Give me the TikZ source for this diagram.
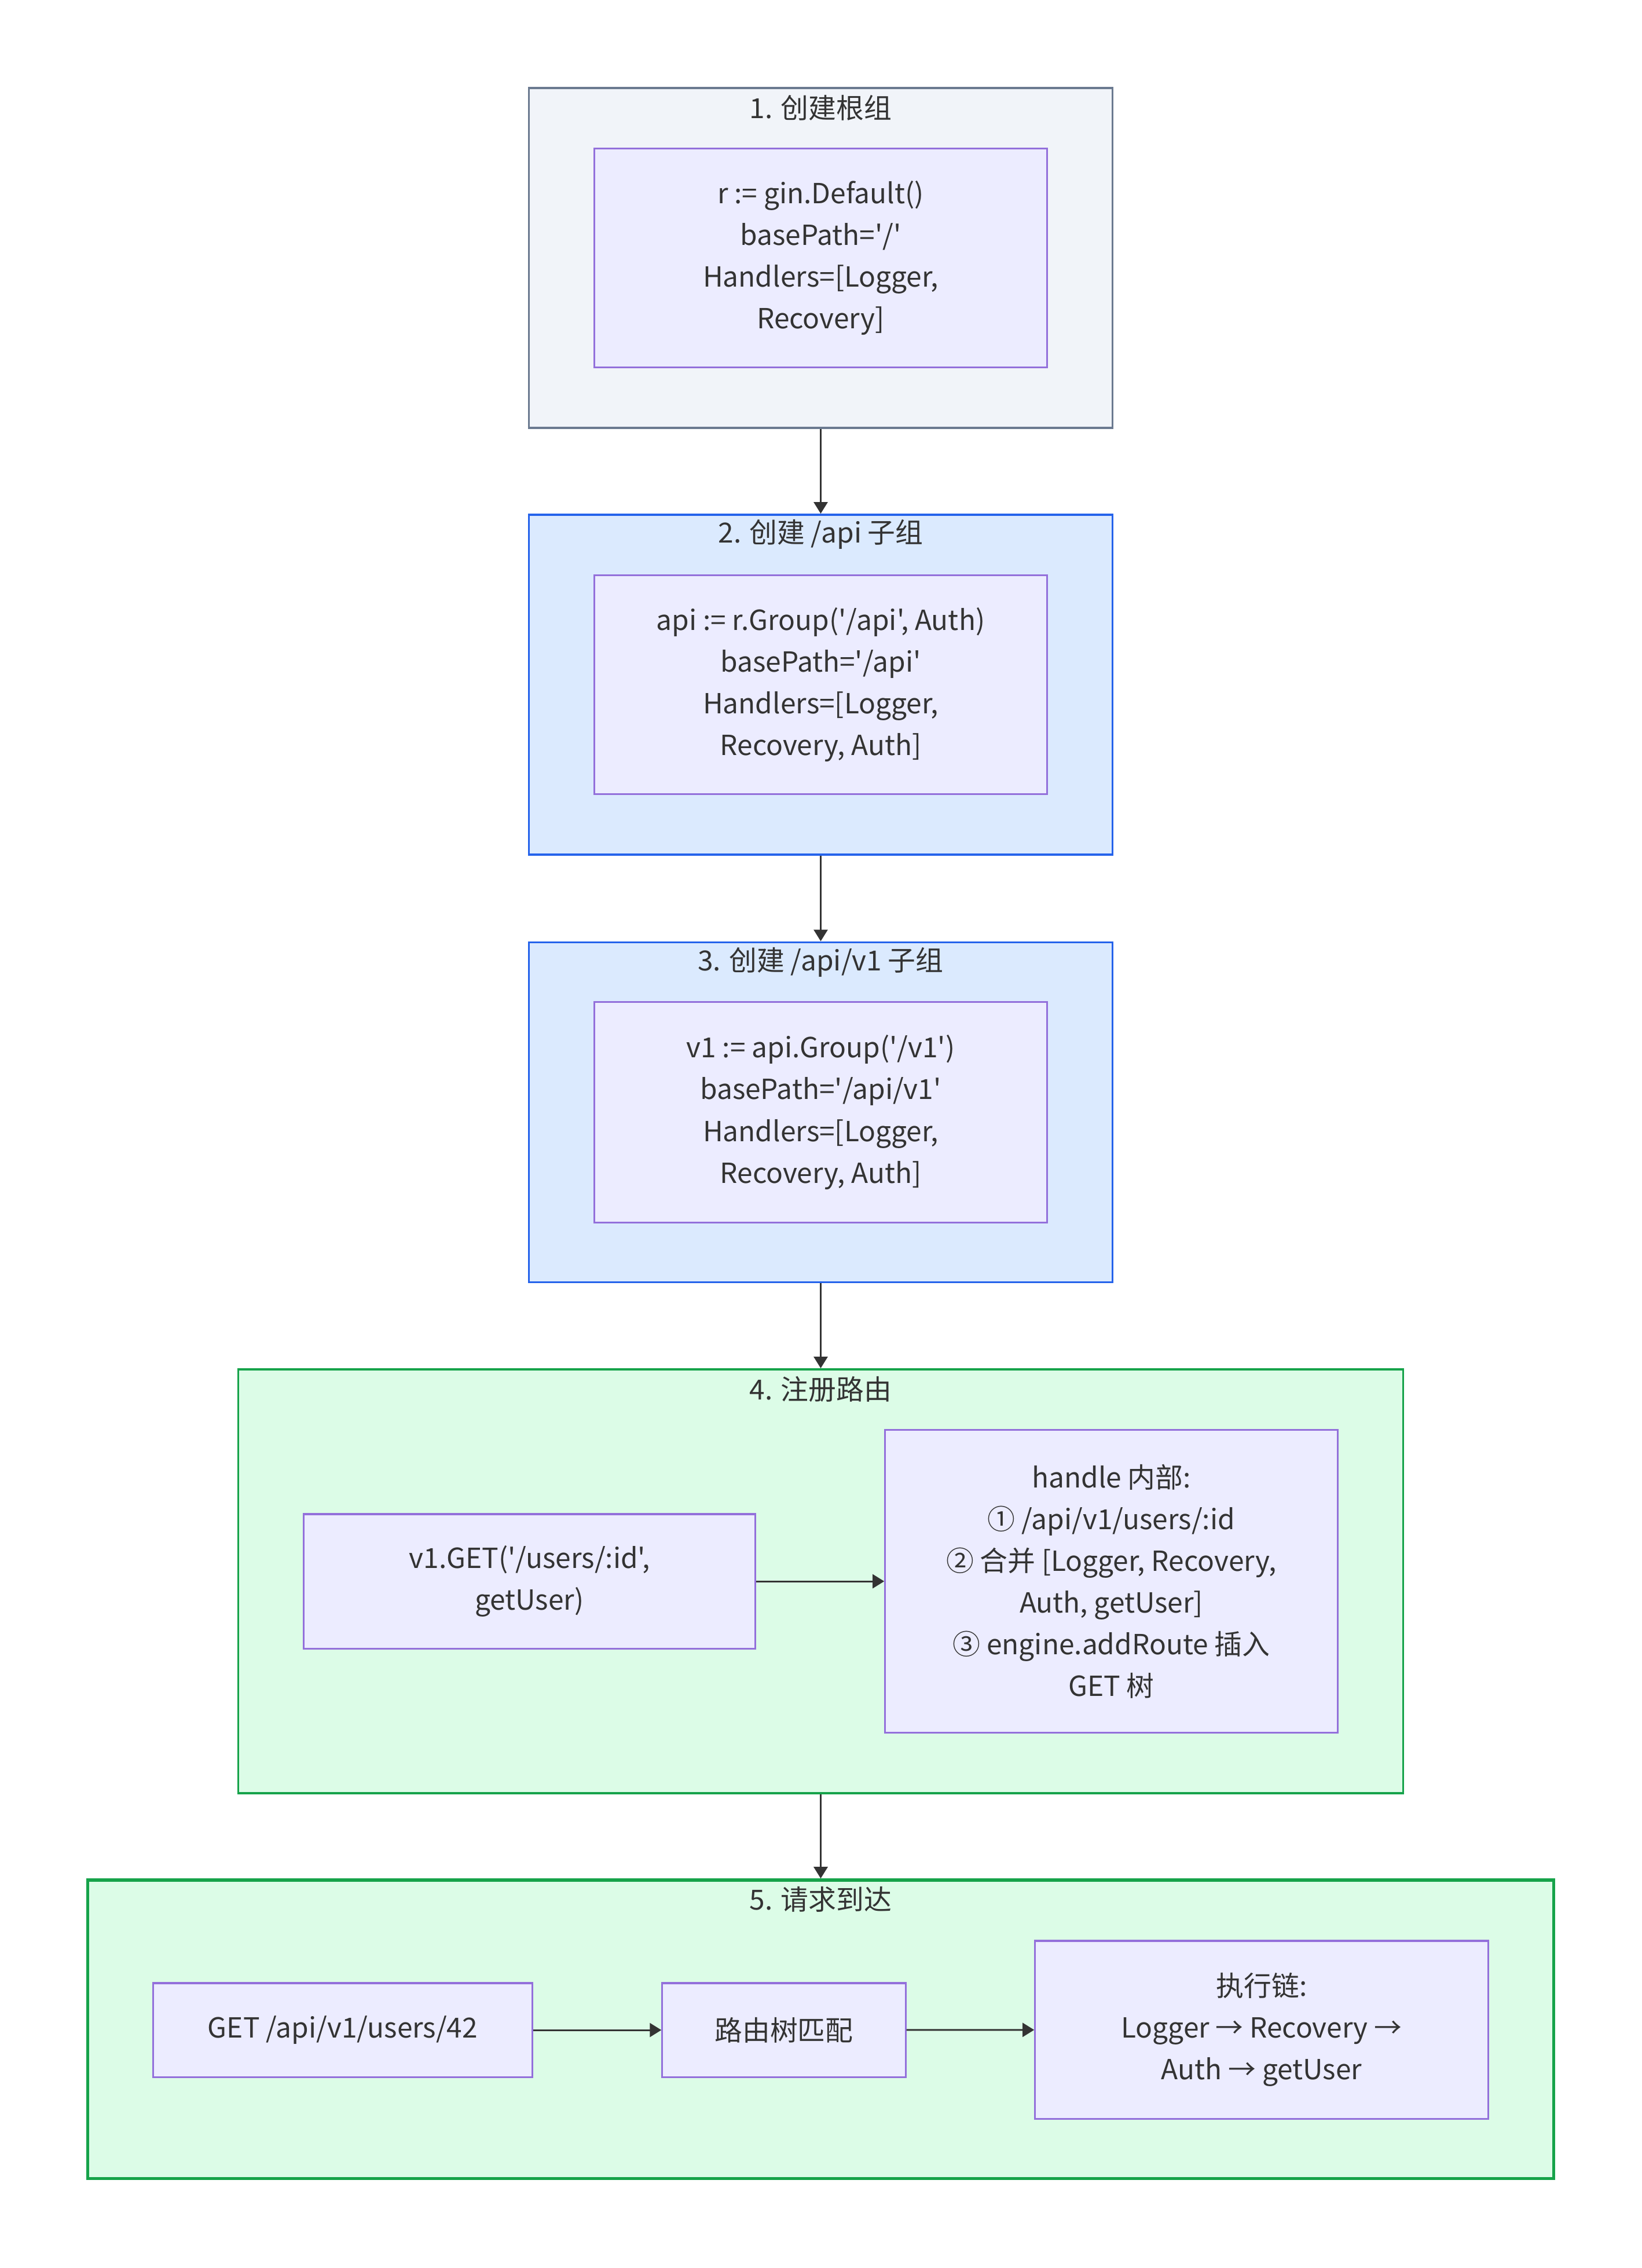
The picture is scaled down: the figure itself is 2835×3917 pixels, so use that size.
\documentclass[tikz,border=0pt]{standalone}
\usepackage{fontspec}
\setmainfont{Noto Sans CJK SC}[Ligatures=TeXOff]
\usetikzlibrary{arrows.meta,positioning}

\definecolor{txt}{HTML}{333333}
\definecolor{boxfill}{HTML}{ECECFF}
\definecolor{boxline}{HTML}{9370DB}
\definecolor{rootfill}{HTML}{F1F4F9}
\definecolor{rootline}{HTML}{6B7A90}
\definecolor{subfill}{HTML}{DBEAFE}
\definecolor{subline}{HTML}{2563EB}
\definecolor{greenfill}{HTML}{DCFCE7}
\definecolor{greenline}{HTML}{16A34A}

\begin{document}
\begin{tikzpicture}[
      x=0.01cm,
      y=-0.01cm,
      font=\fontsize{13.6pt}{20.5pt}\selectfont,
      text=txt,
      group/.style={draw, line width=1pt, minimum width=10.07cm, minimum height=5.87cm, inner sep=0pt},
      box/.style={draw=boxline, fill=boxfill, line width=0.9pt, align=center, inner sep=2pt},
      title/.style={align=center, inner sep=0pt},
      arrow/.style={-{Triangle[length=2mm, width=2.4mm]}, line width=0.85pt, draw=txt}
  ]
  \useasboundingbox (0,0) rectangle (2835,3917);

  % --- Groups (columns centred at 1417.5) ---
  \node[group, draw=rootline, fill=rootfill] (root) at (1417.5,445.5)  {};
  \node[group, draw=subline, fill=subfill]   (api)  at (1417.5,1182.5) {};
  \node[group, draw=subline, fill=subfill]   (v1)   at (1417.5,1921)   {};
  \node[group, draw=greenline, fill=greenfill, minimum width=20.11cm, minimum height=7.32cm] (reg) at (1417.5,2731) {};
  \node[group, draw=greenline, fill=greenfill, line width=1.5pt, minimum width=25.31cm, minimum height=5.15cm] (req) at (1417.5,3504.5) {};

  \node[title] (roott) at ([yshift=-0.36cm]root.north) {1. 创建根组};
  \node[title] (apit)  at ([yshift=-0.36cm]api.north)  {2. 创建 /api 子组};
  \node[title] (v1t)   at ([yshift=-0.36cm]v1.north)   {3. 创建 /api/v1 子组};
  \node[title] (regt)  at ([yshift=-0.36cm]reg.north)  {4. 注册路由};
  \node[title] (reqt)  at ([yshift=-0.36cm]req.north)  {5. 请求到达};

  % --- Group contents ---
  \node[box, minimum width=7.81cm, minimum height=3.77cm] (rootbox) at (1417.5,445.5)
    {r := gin.Default()\\basePath='/'\\Handlers=[Logger,\\Recovery]};
  \node[box, minimum width=7.81cm, minimum height=3.77cm] (apibox) at (1417.5,1182.5)
    {api := r.Group('/api', Auth)\\basePath='/api'\\Handlers=[Logger,\\Recovery, Auth]};
  \node[box, minimum width=7.81cm, minimum height=3.8cm] (v1box) at (1417.5,1921)
    {v1 := api.Group('/v1')\\basePath='/api/v1'\\Handlers=[Logger,\\Recovery, Auth]};

  \node[box, minimum width=7.79cm, minimum height=2.32cm] (get) at (914.5,2731)
    {v1.GET('/users/:id',\\getUser)};
  \node[box, minimum width=7.81cm, minimum height=5.22cm] (handle) at (1919.5,2731)
    {handle 内部:\\① /api/v1/users/:id\\② 合并 [Logger, Recovery,\\Auth, getUser]\\③ engine.addRoute 插入\\GET 树};

  \node[box, minimum width=6.54cm, minimum height=1.62cm] (call)  at (592,3506)  {GET /api/v1/users/42};
  \node[box, minimum width=4.2cm, minimum height=1.62cm]  (match) at (1354,3506) {路由树匹配};
  \node[box, minimum width=7.82cm, minimum height=3.07cm] (chain) at (2179,3505.5)
    {执行链:\\Logger → Recovery →\\Auth → getUser};

  % --- Arrows ---
  \draw[arrow] (root) -- (api);
  \draw[arrow] (api) -- (v1);
  \draw[arrow] (v1) -- (reg);
  \draw[arrow] (reg) -- (req);

  \draw[arrow] (get) -- (handle);

  \draw[arrow] (call) -- (match);
  \draw[arrow] (match) -- (chain);

\end{tikzpicture}
\end{document}
